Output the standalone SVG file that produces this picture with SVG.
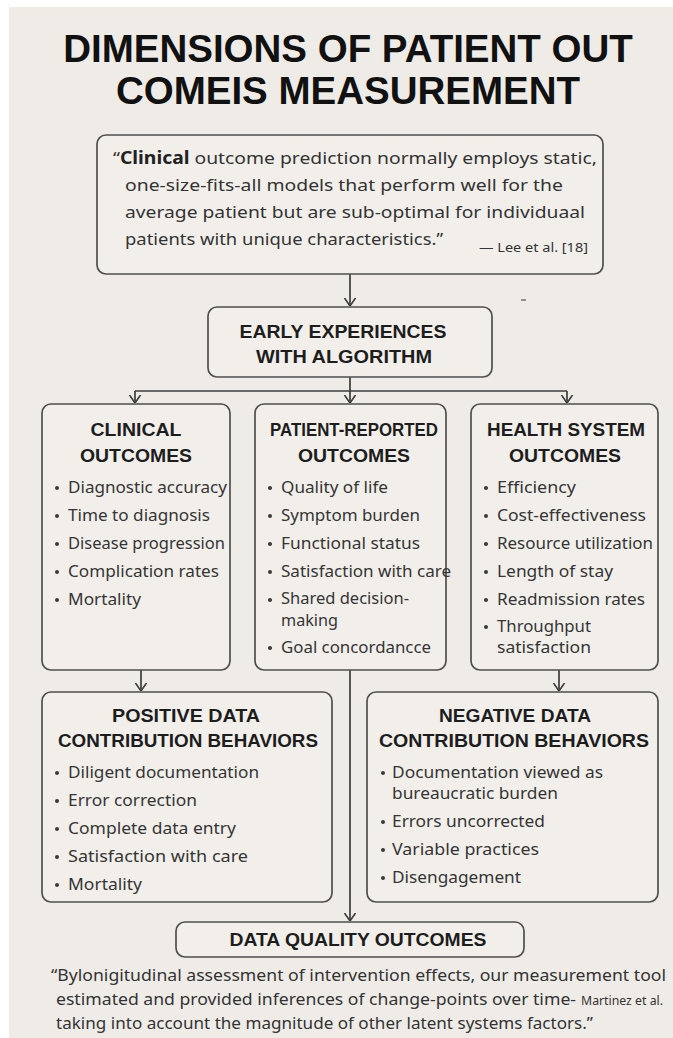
<svg xmlns="http://www.w3.org/2000/svg" width="673" height="1038" viewBox="0 0 673 1038">
  <defs>
    <marker id="arrow" viewBox="0 0 8 12" refX="8" refY="6" markerWidth="8" markerHeight="12" markerUnits="userSpaceOnUse" orient="auto">
      <path d="M0,0.5 L8,6 L0,11.5" fill="none" stroke="#3d3d3d" stroke-width="1.6"/>
    </marker>
    <style>
      .bg { fill: #efece8; }
      .box { fill: #f2efeb; stroke: #4f4f4f; stroke-width: 1.7; }
      .title { font-family: "Liberation Sans", Arial, sans-serif; font-weight: bold; font-size: 38.5px; fill: #111; text-anchor: middle; }
      .head { font-family: "Liberation Sans", Arial, sans-serif; font-weight: bold; font-size: 18px; fill: #1d1d1d; text-anchor: middle; }
      .q { font-family: "Noto Sans", "Liberation Sans", sans-serif; font-size: 17px; fill: #333; }
      .cite { font-family: "Noto Sans", "Liberation Sans", sans-serif; font-size: 12.5px; fill: #333; }
      .b { font-family: "Noto Sans", "Liberation Sans", sans-serif; font-size: 16.5px; fill: #353535; }
      .dot { fill: #3a3a3a; }
      .conn { fill: none; stroke: #3d3d3d; stroke-width: 1.7; }
    </style>
  </defs>

  <!-- page -->
  <rect x="0" y="0" width="673" height="1038" fill="#ffffff"/>
  <rect class="bg" x="9" y="7" width="664" height="1031"/>

  <!-- title -->
  <g id="title">
    <text class="title" x="348" y="62">DIMENSIONS OF PATIENT OUT</text>
    <text class="title" x="348" y="104">COMEIS MEASUREMENT</text>
  </g>

  <!-- connectors -->
  <g id="connectors">
    <path class="conn" d="M350,274 V306" marker-end="url(#arrow)"/>
    <path class="conn" d="M350,377 V403" marker-end="url(#arrow)"/>
    <path class="conn" d="M135,391 H567"/>
    <path class="conn" d="M135,391 V403" marker-end="url(#arrow)"/>
    <path class="conn" d="M567,391 V403" marker-end="url(#arrow)"/>
    <path class="conn" d="M141,670 V691" marker-end="url(#arrow)"/>
    <path class="conn" d="M559,670 V691" marker-end="url(#arrow)"/>
    <path class="conn" d="M350,670 V921" marker-end="url(#arrow)"/>
    <path d="M521,300 H526" stroke="#555" stroke-width="1.2"/>
  </g>

  <!-- opening quotation -->
  <g id="quote-lee">
    <rect class="box" x="97" y="135" width="506" height="139" rx="9"/>
    <text class="q" x="113" y="164" textLength="484" lengthAdjust="spacingAndGlyphs">“<tspan font-weight="bold" fill="#222">Clinical</tspan> outcome prediction normally employs static,</text>
    <text class="q" x="125" y="191" textLength="438" lengthAdjust="spacingAndGlyphs">one-size-fits-all models that perform well for the</text>
    <text class="q" x="125" y="218" textLength="460" lengthAdjust="spacingAndGlyphs">average patient but are sub-optimal for individuaal</text>
    <text class="q" x="125" y="245" textLength="318" lengthAdjust="spacingAndGlyphs">patients with unique characteristics.”</text>
    <text class="cite" x="479" y="252" textLength="109" lengthAdjust="spacingAndGlyphs">— Lee et al. [18]</text>
  </g>

  <!-- early experiences -->
  <g id="early-experiences">
    <rect class="box" x="208" y="307" width="284" height="70" rx="9"/>
    <text class="head" x="343" y="338" textLength="207" lengthAdjust="spacingAndGlyphs">EARLY EXPERIENCES</text>
    <text class="head" x="344" y="363" textLength="176" lengthAdjust="spacingAndGlyphs">WITH ALGORITHM</text>
  </g>

  <!-- clinical outcomes -->
  <g id="clinical-outcomes">
    <rect class="box" x="42" y="404" width="188" height="266" rx="9"/>
    <text class="head" x="136" y="436" textLength="91" lengthAdjust="spacingAndGlyphs">CLINICAL</text>
    <text class="head" x="136" y="462" textLength="112" lengthAdjust="spacingAndGlyphs">OUTCOMES</text>
    <circle class="dot" cx="57" cy="488" r="2"/>
    <circle class="dot" cx="57" cy="516" r="2"/>
    <circle class="dot" cx="57" cy="544" r="2"/>
    <circle class="dot" cx="57" cy="572" r="2"/>
    <circle class="dot" cx="57" cy="600" r="2"/>
    <text class="b" x="68" y="493" textLength="159" lengthAdjust="spacingAndGlyphs">Diagnostic accuracy</text>
    <text class="b" x="68" y="521" textLength="142" lengthAdjust="spacingAndGlyphs">Time to diagnosis</text>
    <text class="b" x="68" y="549" textLength="157" lengthAdjust="spacingAndGlyphs">Disease progression</text>
    <text class="b" x="68" y="577" textLength="151" lengthAdjust="spacingAndGlyphs">Complication rates</text>
    <text class="b" x="68" y="605" textLength="73" lengthAdjust="spacingAndGlyphs">Mortality</text>
  </g>

  <!-- patient-reported outcomes -->
  <g id="patient-reported-outcomes">
    <rect class="box" x="255" y="404" width="191" height="266" rx="9"/>
    <text class="head" x="354" y="436" textLength="168" lengthAdjust="spacingAndGlyphs">PATIENT-REPORTED</text>
    <text class="head" x="354" y="462" textLength="112" lengthAdjust="spacingAndGlyphs">OUTCOMES</text>
    <circle class="dot" cx="270" cy="488" r="2"/>
    <circle class="dot" cx="270" cy="516" r="2"/>
    <circle class="dot" cx="270" cy="544" r="2"/>
    <circle class="dot" cx="270" cy="572" r="2"/>
    <circle class="dot" cx="270" cy="600" r="2"/>
    <circle class="dot" cx="270" cy="648" r="2"/>
    <text class="b" x="281" y="493" textLength="107" lengthAdjust="spacingAndGlyphs">Quality of life</text>
    <text class="b" x="281" y="521" textLength="139" lengthAdjust="spacingAndGlyphs">Symptom burden</text>
    <text class="b" x="281" y="549" textLength="139" lengthAdjust="spacingAndGlyphs">Functional status</text>
    <text class="b" x="281" y="577" textLength="170" lengthAdjust="spacingAndGlyphs">Satisfaction with care</text>
    <text class="b" x="281" y="604" textLength="128" lengthAdjust="spacingAndGlyphs">Shared decision-</text>
    <text class="b" x="281" y="626" textLength="57" lengthAdjust="spacingAndGlyphs">making</text>
    <text class="b" x="281" y="653" textLength="150" lengthAdjust="spacingAndGlyphs">Goal concordancce</text>
  </g>

  <!-- health system outcomes -->
  <g id="health-system-outcomes">
    <rect class="box" x="471" y="404" width="187" height="266" rx="9"/>
    <text class="head" x="566" y="436" textLength="158" lengthAdjust="spacingAndGlyphs">HEALTH SYSTEM</text>
    <text class="head" x="565" y="462" textLength="112" lengthAdjust="spacingAndGlyphs">OUTCOMES</text>
    <circle class="dot" cx="486" cy="488" r="2"/>
    <circle class="dot" cx="486" cy="516" r="2"/>
    <circle class="dot" cx="486" cy="544" r="2"/>
    <circle class="dot" cx="486" cy="572" r="2"/>
    <circle class="dot" cx="486" cy="600" r="2"/>
    <circle class="dot" cx="486" cy="627" r="2"/>
    <text class="b" x="497" y="493" textLength="79" lengthAdjust="spacingAndGlyphs">Efficiency</text>
    <text class="b" x="497" y="521" textLength="149" lengthAdjust="spacingAndGlyphs">Cost-effectiveness</text>
    <text class="b" x="497" y="549" textLength="156" lengthAdjust="spacingAndGlyphs">Resource utilization</text>
    <text class="b" x="497" y="577" textLength="116" lengthAdjust="spacingAndGlyphs">Length of stay</text>
    <text class="b" x="497" y="605" textLength="148" lengthAdjust="spacingAndGlyphs">Readmission rates</text>
    <text class="b" x="497" y="632" textLength="94" lengthAdjust="spacingAndGlyphs">Throughput</text>
    <text class="b" x="497" y="653" textLength="94" lengthAdjust="spacingAndGlyphs">satisfaction</text>
  </g>

  <!-- positive data contribution behaviors -->
  <g id="positive-behaviors">
    <rect class="box" x="42" y="692" width="290" height="210" rx="9"/>
    <text class="head" x="186" y="722" textLength="148" lengthAdjust="spacingAndGlyphs">POSITIVE DATA</text>
    <text class="head" x="188" y="747" textLength="260" lengthAdjust="spacingAndGlyphs">CONTRIBUTION BEHAVIORS</text>
    <circle class="dot" cx="57" cy="773" r="2"/>
    <circle class="dot" cx="57" cy="801" r="2"/>
    <circle class="dot" cx="57" cy="829" r="2"/>
    <circle class="dot" cx="57" cy="857" r="2"/>
    <circle class="dot" cx="57" cy="885" r="2"/>
    <text class="b" x="68" y="778" textLength="191" lengthAdjust="spacingAndGlyphs">Diligent documentation</text>
    <text class="b" x="68" y="806" textLength="129" lengthAdjust="spacingAndGlyphs">Error correction</text>
    <text class="b" x="68" y="834" textLength="168" lengthAdjust="spacingAndGlyphs">Complete data entry</text>
    <text class="b" x="68" y="862" textLength="180" lengthAdjust="spacingAndGlyphs">Satisfaction with care</text>
    <text class="b" x="68" y="890" textLength="74" lengthAdjust="spacingAndGlyphs">Mortality</text>
  </g>

  <!-- negative data contribution behaviors -->
  <g id="negative-behaviors">
    <rect class="box" x="367" y="692" width="291" height="210" rx="9"/>
    <text class="head" x="515" y="722" textLength="152" lengthAdjust="spacingAndGlyphs">NEGATIVE DATA</text>
    <text class="head" x="514" y="747" textLength="270" lengthAdjust="spacingAndGlyphs">CONTRIBUTION BEHAVIORS</text>
    <circle class="dot" cx="383" cy="773" r="2"/>
    <circle class="dot" cx="383" cy="822" r="2"/>
    <circle class="dot" cx="383" cy="850" r="2"/>
    <circle class="dot" cx="383" cy="878" r="2"/>
    <text class="b" x="392" y="778" textLength="211" lengthAdjust="spacingAndGlyphs">Documentation viewed as</text>
    <text class="b" x="392" y="799" textLength="166" lengthAdjust="spacingAndGlyphs">bureaucratic burden</text>
    <text class="b" x="392" y="827" textLength="153" lengthAdjust="spacingAndGlyphs">Errors uncorrected</text>
    <text class="b" x="392" y="855" textLength="147" lengthAdjust="spacingAndGlyphs">Variable practices</text>
    <text class="b" x="392" y="883" textLength="129" lengthAdjust="spacingAndGlyphs">Disengagement</text>
  </g>

  <!-- data quality outcomes -->
  <g id="data-quality-outcomes">
    <rect class="box" x="176" y="922" width="348" height="35" rx="9"/>
    <text class="head" x="358" y="946" textLength="257" lengthAdjust="spacingAndGlyphs">DATA QUALITY OUTCOMES</text>
  </g>

  <!-- closing quotation -->
  <g id="quote-martinez">
    <text class="q" x="51" y="981" textLength="615" lengthAdjust="spacingAndGlyphs">“Bylonigitudinal assessment of intervention effects, our measurement tool</text>
    <text class="q" x="56" y="1005" textLength="520" lengthAdjust="spacingAndGlyphs">estimated and provided inferences of change-points over time-</text>
    <text class="cite" x="581" y="1005" font-size="11" textLength="82" lengthAdjust="spacingAndGlyphs">Martinez et al.</text>
    <text class="q" x="56" y="1029" textLength="537" lengthAdjust="spacingAndGlyphs">taking into account the magnitude of other latent systems factors.”</text>
  </g>
</svg>
